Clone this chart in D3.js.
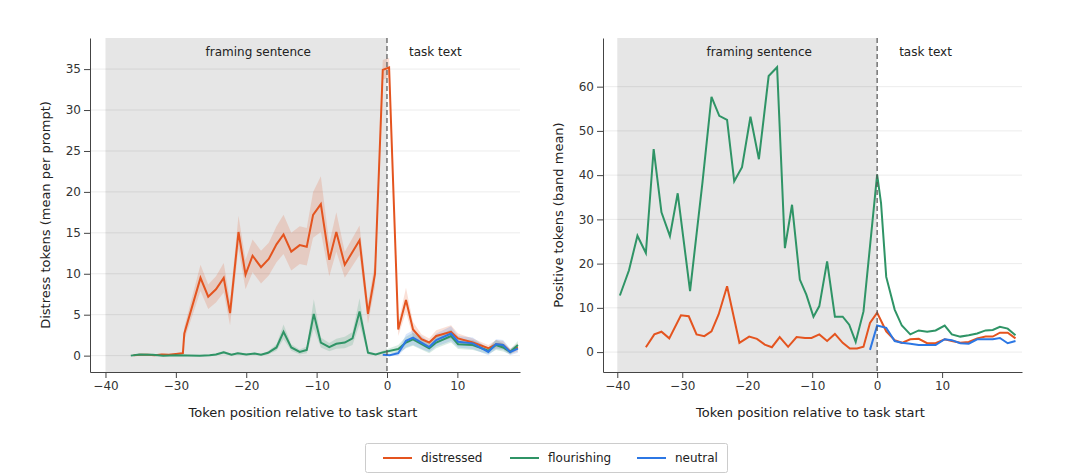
<!DOCTYPE html>
<html><head><meta charset="utf-8">
<script src="https://cdn.jsdelivr.net/npm/d3@7"></script>
<style>body{margin:0;background:#fff}text{font-family:"DejaVu Sans",sans-serif}</style>
</head><body><svg id="c" width="1074" height="476"></svg>
<script>
// left panel: distress tokens
const distressedLX = [-36,-35,-34,-33,-32,-31,-30,-29,-28.8,-26.5,-25.4,-24.3,-23.2,-22.3,-21.1,-20.1,-19.1,-17.9,-16.8,-15.7,-14.7,-13.6,-12.4,-11.4,-10.5,-9.4,-8.2,-7.2,-6.0,-3.9,-2.7,-1.7,-0.6,0.3,1.6,2.7,3.7,4.9,6.0,7.0,9.1,10.1,12.2,14.4,15.5,16.5,17.5,18.6];
const distressedLY = [0.05,0.1,0.1,0.05,0.15,0.1,0.2,0.3,2.7,9.5,7.2,8.1,9.5,5.2,15.1,9.9,12.2,10.8,11.8,13.6,14.8,12.7,13.5,13.3,17.2,18.5,11.7,15.1,11.1,14.1,5.1,10.0,34.9,35.2,3.2,6.8,3.2,2.0,1.6,2.4,2.9,2.1,1.6,0.9,1.4,1.3,0.5,1.0];
const distressedLErr = [0.1,0.1,0.1,0.1,0.1,0.1,0.1,0.2,0.8,1.6,1.5,1.6,1.8,1.5,2.0,1.8,2.0,2.0,2.0,2.2,2.4,2.3,2.3,2.3,2.8,3.4,2.0,2.4,1.6,1.8,1.2,1.5,1.2,1.2,0.8,1.5,0.9,0.6,0.5,0.7,0.8,0.6,0.5,0.4,0.5,0.5,0.3,0.5];
const flourishingLX = [-36.4,-35.2,-33.3,-31.8,-30,-26.6,-25.2,-24.3,-23.2,-22.1,-21.2,-20,-18.8,-17.9,-16.9,-15.7,-14.7,-13.6,-12.4,-11.4,-10.4,-9.4,-8.2,-7.2,-6,-4.9,-3.9,-2.7,-1.6,-0.6,1.6,2.7,3.7,6,7,9.1,10.1,12.2,14.4,15.5,16.5,17.5,18.6];
const flourishingLY = [0,0.15,0.1,0,0.05,0,0.05,0.15,0.4,0.1,0.3,0.15,0.25,0.1,0.35,1.0,2.9,1.0,0.45,0.7,5.1,1.6,1.05,1.45,1.6,2.1,5.4,0.35,0.15,0.4,0.8,1.6,2.0,0.9,1.6,2.4,1.4,1.3,0.6,1.3,1.0,0.45,1.3];
const flourishingLErr = [0.05,0.05,0.05,0.05,0.05,0.05,0.05,0.1,0.2,0.1,0.1,0.1,0.1,0.1,0.2,0.4,0.9,0.4,0.3,0.4,1.8,0.6,0.5,0.6,0.7,0.8,1.6,0.2,0.1,0.2,0.5,0.7,0.8,0.6,0.7,0.8,0.6,0.6,0.4,0.6,0.5,0.3,0.5];
const neutralLX = [-0.6,0.4,1.6,2.7,3.7,4.9,6,7,9.1,10.1,12.2,14.4,15.5,16.5,17.5,18.6];
const neutralLY = [0.1,0.05,0.3,1.8,2.2,1.6,1.05,1.9,2.7,1.7,1.5,0.45,1.4,1.3,0.45,0.85];
const neutralLErr = [0.1,0.1,0.3,0.8,0.9,0.8,0.6,0.8,0.9,0.7,0.7,0.4,0.6,0.6,0.4,0.5];

// right panel: positive tokens
const flourishingRX = [-39.6,-38.2,-36.9,-35.6,-34.4,-33.2,-31.9,-30.7,-28.8,-26.9,-25.5,-24.3,-23.1,-22.0,-20.8,-19.5,-18.2,-16.7,-15.4,-14.2,-13.1,-11.9,-10.9,-9.8,-8.9,-7.7,-6.5,-5.3,-4.3,-3.3,-2.1,0,0.6,1.4,2.7,3.8,5.1,6.4,7.7,9.0,10.4,11.5,12.8,14.1,15.4,16.7,17.8,18.9,20.1,21.3];
const flourishingRY = [12.8,18.5,26.3,22.4,45.9,31.6,26.2,35.9,13.8,38.2,57.7,53.4,52.5,38.6,41.8,53.2,43.6,62.4,64.4,23.5,33.3,16.4,13.0,8.0,10.4,20.5,8.0,8.0,6.2,2.3,9.2,40.1,33.7,17.0,9.6,6.0,4.0,4.9,4.6,4.9,6.0,4.0,3.5,3.8,4.2,4.9,5.0,5.7,5.3,3.8];
const distressedRX = [-35.6,-34.3,-33.2,-32.0,-30.2,-29.0,-27.8,-26.6,-25.5,-24.4,-23.1,-21.2,-19.7,-18.5,-17.3,-16.2,-15.0,-13.7,-12.4,-11.1,-10.1,-8.9,-7.7,-6.5,-5.3,-4.2,-3.1,-2.1,-1.1,0,1.4,2.7,3.8,5.1,6.4,7.7,9.0,10.4,11.5,12.8,14.1,15.4,16.7,17.8,18.9,20.1,21.3];
const distressedRY = [1.1,4.0,4.6,3.1,8.3,8.1,4.0,3.6,4.7,8.5,14.9,2.1,3.5,3.0,1.7,1.1,3.4,1.2,3.4,3.2,3.2,4.0,2.5,4.1,2.1,0.8,0.8,1.2,6.6,8.9,4.7,2.7,2.1,2.9,3.0,2.0,2.0,2.9,2.5,2.1,2.3,3.1,3.5,3.5,4.4,4.4,3.1];
const neutralRX = [-1.1,0,1.4,2.7,3.8,5.1,6.4,9.0,10.4,11.5,12.8,14.1,15.4,17.8,18.9,20.1,21.3];
const neutralRY = [0.5,6.0,5.5,2.5,2.1,1.9,1.6,1.6,2.9,2.7,2.0,1.9,2.9,2.9,3.2,2.0,2.5];

const colors = {distressed: '#e4541f', flourishing: '#2f9466', neutral: '#2c77e4'};
const xTicks = [-40, -30, -20, -10, 0, 10];

const svg = d3.select('#c');

function zip(xs, ys, es) {
    return xs.map((x, i) => ({x, y: ys[i], e: es ? es[i] : 0}));
}

function drawPanel({left, right, xMax, yMin, yMax, yTicks, yLabel, series}) {
    const top = 38, bottom = 372;
    const x = d3.scaleLinear().domain([-42.2, xMax]).range([left, right]);
    const y = d3.scaleLinear().domain([yMin, yMax]).range([bottom, top]);
    const g = svg.append('g');

    g.append('rect')
        .attr('x', x(-40)).attr('y', top)
        .attr('width', x(0) - x(-40)).attr('height', bottom - top)
        .attr('fill', '#e6e6e6');

    g.selectAll('.grid').data(yTicks).join('line')
        .attr('x1', left).attr('x2', right)
        .attr('y1', d => y(d)).attr('y2', d => y(d))
        .attr('stroke', '#000').attr('stroke-opacity', 0.08);

    series.forEach(s => {
        const data = zip(s.x, s.y, s.err);
        if (s.err) {
            g.append('path').datum(data)
                .attr('d', d3.area().x(d => x(d.x)).y0(d => y(d.y - d.e)).y1(d => y(d.y + d.e)))
                .attr('fill', colors[s.name]).attr('fill-opacity', 0.18);
        }
    });
    series.forEach(s => {
        g.append('path').datum(zip(s.x, s.y))
            .attr('d', d3.line().x(d => x(d.x)).y(d => y(d.y)))
            .attr('fill', 'none').attr('stroke', colors[s.name]).attr('stroke-width', 2);
    });

    g.append('line')
        .attr('x1', x(0)).attr('x2', x(0)).attr('y1', top).attr('y2', bottom)
        .attr('stroke', '#555').attr('stroke-width', 1.2).attr('stroke-dasharray', '5,3');

    g.append('text').attr('x', x(-20) + 12).attr('y', 56).attr('text-anchor', 'middle')
        .attr('font-size', 12).attr('fill', '#222').text('framing sentence');
    g.append('text').attr('x', x(0) + 22).attr('y', 56)
        .attr('font-size', 12).attr('fill', '#222').text('task text');

    const xa = g.append('g').attr('transform', `translate(0,${bottom})`)
        .call(d3.axisBottom(x).tickValues(xTicks).tickFormat(d => d < 0 ? '\u2212' + Math.abs(d) : d).tickSizeOuter(0));
    const ya = g.append('g').attr('transform', `translate(${left},0)`)
        .call(d3.axisLeft(y).tickValues(yTicks).tickSizeOuter(0));
    [xa, ya].forEach(a => {
        a.selectAll('text').attr('font-size', 12).attr('fill', '#333');
        a.selectAll('line,path').attr('stroke', '#444');
    });

    g.append('text').attr('x', (left + right) / 2 - 2).attr('y', 417).attr('text-anchor', 'middle')
        .attr('font-size', 13).attr('fill', '#222').text('Token position relative to task start');
    g.append('text').attr('transform', `translate(${left - 40},${(top + bottom) / 2 + 10}) rotate(-90)`)
        .attr('text-anchor', 'middle').attr('font-size', 13).attr('fill', '#222').text(yLabel);
}

drawPanel({
    left: 90, right: 520, xMax: 18.9, yMin: -2, yMax: 38.8,
    yTicks: [0, 5, 10, 15, 20, 25, 30, 35],
    yLabel: 'Distress tokens (mean per prompt)',
    series: [
        {name: 'distressed', x: distressedLX, y: distressedLY, err: distressedLErr},
        {name: 'flourishing', x: flourishingLX, y: flourishingLY, err: flourishingLErr},
        {name: 'neutral', x: neutralLX, y: neutralLY, err: neutralLErr}
    ]
});

drawPanel({
    left: 603, right: 1022, xMax: 22.3, yMin: -4.5, yMax: 71,
    yTicks: [0, 10, 20, 30, 40, 50, 60],
    yLabel: 'Positive tokens (band mean)',
    series: [
        {name: 'flourishing', x: flourishingRX, y: flourishingRY},
        {name: 'distressed', x: distressedRX, y: distressedRY},
        {name: 'neutral', x: neutralRX, y: neutralRY}
    ]
});

// legend
const names = ['distressed', 'flourishing', 'neutral'];
const lg = svg.append('g');
lg.append('rect').attr('x', 365.5).attr('y', 443.5).attr('width', 362).attr('height', 29)
    .attr('fill', '#fff').attr('stroke', '#ccc').attr('rx', 2);
names.forEach((n, i) => {
    const x0 = 383 + i * 127;
    lg.append('line').attr('x1', x0).attr('x2', x0 + 29).attr('y1', 458).attr('y2', 458)
        .attr('stroke', colors[n]).attr('stroke-width', 2);
    lg.append('text').attr('x', x0 + 38).attr('y', 462).attr('font-size', 12).attr('fill', '#222').text(n);
});
</script></body></html>
